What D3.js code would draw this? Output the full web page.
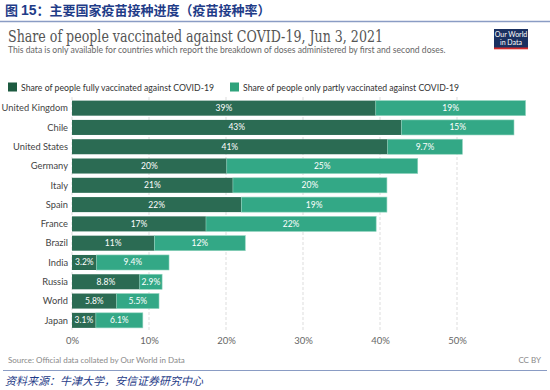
<!DOCTYPE html>
<html>
<head>
<meta charset="utf-8">
<script src="https://cdn.jsdelivr.net/npm/d3@7"></script>
<style>
  body { margin: 0; background: #fff; }
  svg text { font-family: Lato, "Noto Sans", sans-serif; }
</style>
</head>
<body>
<div id="chart"></div>
<script>
// data
var countries = ["United Kingdom", "Chile", "United States", "Germany", "Italy", "Spain",
                 "France", "Brazil", "India", "Russia", "World", "Japan"];
var fullyVaccinated = [39.45, 42.8, 41.0, 20.1, 20.9, 22.0, 17.4, 10.7, 3.2, 8.8, 5.8, 3.1];
var partlyVaccinated = [19.45, 14.6, 9.7, 24.8, 20.0, 18.9, 22.1, 11.8, 9.4, 2.9, 5.5, 6.1];
var xTicks = [0, 10, 20, 30, 40, 50];
var seriesNames = ["Share of people fully vaccinated against COVID-19",
                   "Share of people only partly vaccinated against COVID-19"];

function init() {
    var w = 550, h = 390;
    var darkGreen = "#2b6b53", lightGreen = "#33a886";

    var svg = d3.select("#chart").append("svg")
        .attr("width", w).attr("height", h);

    // report header
    var hdr = svg.append("text").attr("x", 5).attr("y", 15)
        .style("font-family", "'Noto Sans CJK SC', sans-serif")
        .style("font-size", "13px").style("font-weight", "bold").attr("fill", "#1f3c88");
    hdr.append("tspan").text("图");
    hdr.append("tspan").attr("dx", 3).style("font-family", "Arial, 'Liberation Sans', sans-serif")
        .style("font-size", "14px").text("15");
    hdr.append("tspan").text("：主要国家疫苗接种进度（疫苗接种率）");
    svg.append("line").attr("x1", 0).attr("x2", w).attr("y1", 21.5).attr("y2", 21.5)
        .attr("stroke", "#8a9cc4").attr("stroke-width", 1.5);

    // chart title
    svg.append("text").attr("x", 8).attr("y", 42)
        .style("font-family", "'DejaVu Serif', 'Liberation Serif', serif")
        .style("font-size", "16px").attr("fill", "#555")
        .attr("textLength", 375).attr("lengthAdjust", "spacingAndGlyphs")
        .text("Share of people vaccinated against COVID-19, Jun 3, 2021");
    svg.append("text").attr("x", 8).attr("y", 53)
        .style("font-size", "8.6px").attr("fill", "#666")
        .text("This data is only available for countries which report the breakdown of doses administered by first and second doses.");

    // logo
    svg.append("rect").attr("x", 494).attr("y", 29).attr("width", 34).attr("height", 20).attr("fill", "#1a3060");
    svg.append("rect").attr("x", 494).attr("y", 47.5).attr("width", 34).attr("height", 1.8).attr("fill", "#d42b2b");
    svg.append("text").attr("x", 511).attr("y", 37).attr("text-anchor", "middle")
        .style("font-size", "7px").attr("fill", "#fff").text("Our World");
    svg.append("text").attr("x", 511).attr("y", 45).attr("text-anchor", "middle")
        .style("font-size", "7px").attr("fill", "#fff").text("in Data");

    // legend
    var legendX = [8, 230];
    var legendColor = ["#1d5a40", "#2fa37c"];
    var legendLen = [193, 216];
    seriesNames.forEach(function(name, i) {
        svg.append("rect").attr("x", legendX[i]).attr("y", 82.5).attr("width", 9).attr("height", 9)
            .attr("fill", legendColor[i]);
        svg.append("text").attr("x", legendX[i] + 13).attr("y", 90.5)
            .style("font-size", "9px").attr("fill", "#333")
            .attr("textLength", legendLen[i]).attr("lengthAdjust", "spacingAndGlyphs")
            .text(name);
    });

    // scales
    var x = d3.scaleLinear().domain([0, 50]).range([72, 457]);
    var y = d3.scaleBand().domain(countries).range([98.5, 330])
        .paddingInner(0.22).paddingOuter(0.11);

    // gridlines
    svg.append("g").selectAll("line").data(xTicks).enter().append("line")
        .attr("x1", function(d) { return x(d); }).attr("x2", function(d) { return x(d); })
        .attr("y1", 97).attr("y2", 332)
        .attr("stroke", "#ddd").attr("stroke-dasharray", "3,2");

    // x axis labels
    var xAxis = svg.append("g").attr("transform", "translate(0,337)")
        .call(d3.axisBottom(x).tickValues(xTicks).tickSize(0).tickPadding(0)
              .tickFormat(function(d) { return d + "%"; }));
    xAxis.select(".domain").remove();
    xAxis.selectAll("text").style("font-family", "Lato, sans-serif").style("font-size", "9.5px")
        .attr("fill", "#666");

    var rows = countries.map(function(c, i) {
        return { country: c, full: fullyVaccinated[i], part: partlyVaccinated[i] };
    });

    function fmt(v) {
        return (v >= 9.95 ? d3.format(".0f")(v) : d3.format(".1f")(v)) + "%";
    }

    // bars
    var row = svg.append("g").selectAll("g").data(rows).enter().append("g");
    row.append("rect")
        .attr("x", x(0)).attr("y", function(d) { return y(d.country); })
        .attr("width", function(d) { return x(d.full) - x(0); })
        .attr("height", y.bandwidth()).attr("fill", darkGreen);
    row.append("rect")
        .attr("x", function(d) { return x(d.full); }).attr("y", function(d) { return y(d.country); })
        .attr("width", function(d) { return x(d.full + d.part) - x(d.full); })
        .attr("height", y.bandwidth()).attr("fill", lightGreen)
        .attr("stroke", "#8fd3bd").attr("stroke-width", 0.6);

    row.append("text")
        .attr("x", function(d) { return (x(0) + x(d.full)) / 2; })
        .attr("y", function(d) { return y(d.country) + y.bandwidth() / 2 + 3; })
        .attr("text-anchor", "middle").style("font-size", "8.5px").attr("fill", "#fff")
        .text(function(d) { return fmt(d.full); });
    row.append("text")
        .attr("x", function(d) { return (x(d.full) + x(d.full + d.part)) / 2; })
        .attr("y", function(d) { return y(d.country) + y.bandwidth() / 2 + 3; })
        .attr("text-anchor", "middle").style("font-size", "8.5px").attr("fill", "#fff")
        .text(function(d) { return fmt(d.part); });

    // country labels
    row.append("text")
        .attr("x", 68).attr("y", function(d) { return y(d.country) + y.bandwidth() / 2 + 3.3; })
        .attr("text-anchor", "end").style("font-size", "9.3px").attr("fill", "#444")
        .text(function(d) { return d.country; });

    // footer
    svg.append("text").attr("x", 8).attr("y", 363)
        .style("font-size", "8px").attr("fill", "#888")
        .text("Source: Official data collated by Our World in Data");
    svg.append("text").attr("x", 541).attr("y", 363).attr("text-anchor", "end")
        .style("font-size", "8px").attr("fill", "#888").text("CC BY");
    svg.append("line").attr("x1", 3).attr("x2", 547).attr("y1", 370.5).attr("y2", 370.5)
        .attr("stroke", "#8a9cc4").attr("stroke-width", 1);
    svg.append("text").attr("x", 5).attr("y", 385)
        .style("font-family", "'Noto Sans CJK SC', sans-serif").style("font-style", "italic")
        .style("font-size", "11px").attr("fill", "#1f3c88")
        .text("资料来源：牛津大学，安信证券研究中心");
}

window.onload = init;
</script>
</body>
</html>
